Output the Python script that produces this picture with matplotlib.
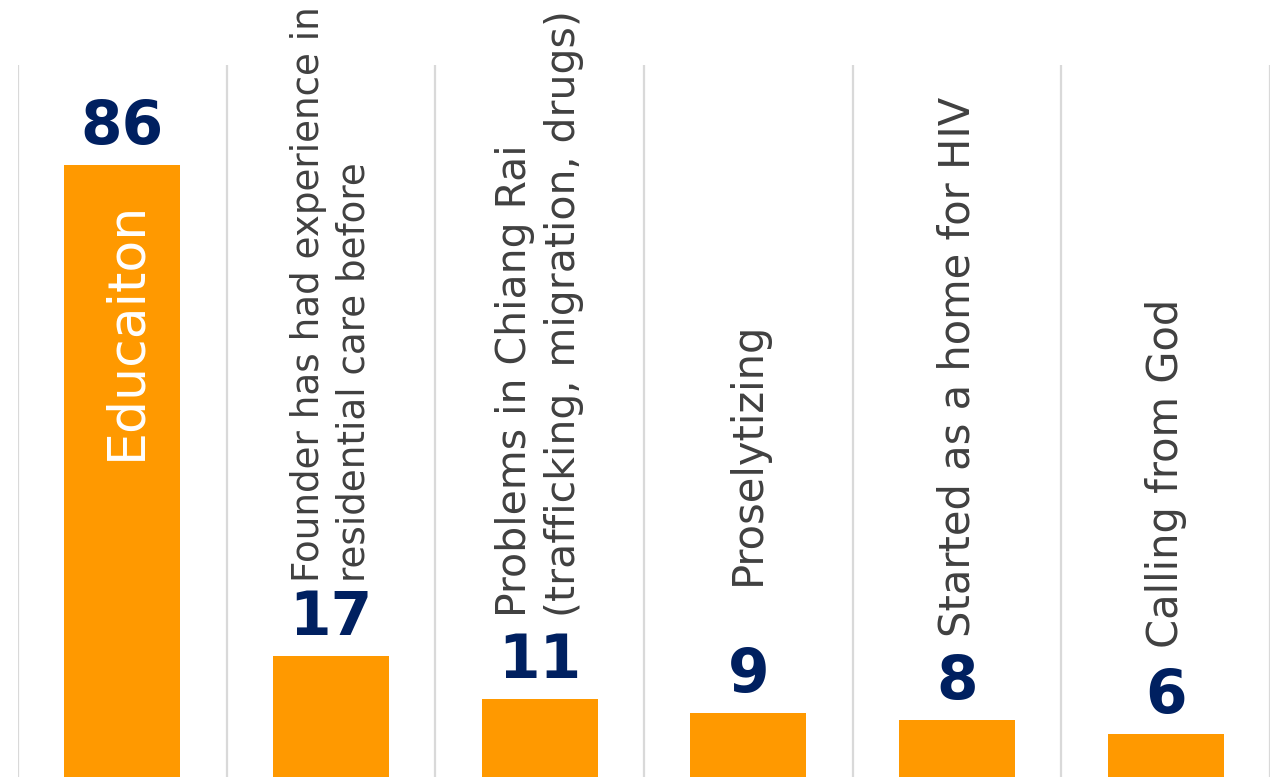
import matplotlib
matplotlib.use('Agg')
from matplotlib import pyplot as plt

# data
categories = ['Educaiton',
              'Founder has had experience in\nresidential care before',
              'Problems in Chiang Rai\n(trafficking, migration, drugs)',
              'Proselytizing',
              'Started as a home for HIV',
              'Calling from God']
values = [86, 17, 11, 9, 8, 6]

# where each rotated category label starts (data units) and its size
label_base = [44.5, 27.4, 22.5, 27.0, 19.7, 18.1]
label_size = [37.5, 26.8, 29.5, 30, 30, 30]

barColor = '#FF9900'
numColor = '#002060'
textColor = '#404040'

fig = plt.figure(figsize=(12.81, 7.78), dpi=100)
ax = fig.add_axes([18 / 1281, 1 / 778, 1252 / 1281, 712 / 778])

x = list(range(len(values)))
ax.bar(x, values, width=0.556, color=barColor, zorder=2)

ax.set_xlim(-0.5, len(values) - 0.5)
ax.set_ylim(0, 100)

# vertical separators between categories
for i in range(len(values) + 1):
    ax.axvline(i - 0.5, color='#d9d9d9', linewidth=1.6, zorder=1)

for i, v in enumerate(values):
    ax.text(i, v + 1.1, str(v), ha='center', va='bottom',
            fontsize=43, fontweight='heavy', color=numColor)
    if i == 0:
        ax.text(i + 0.02, label_base[i], categories[i], rotation=90,
                ha='center', va='bottom', fontsize=label_size[i], color='white')
    else:
        ax.text(i, label_base[i], categories[i], rotation=90,
                ha='center', va='bottom', multialignment='left',
                fontsize=label_size[i], color=textColor, linespacing=1.28,
                clip_on=False)

for s in ax.spines.values():
    s.set_visible(False)
ax.set_xticks([])
ax.set_yticks([])

fig.savefig('out.png', dpi=100)
